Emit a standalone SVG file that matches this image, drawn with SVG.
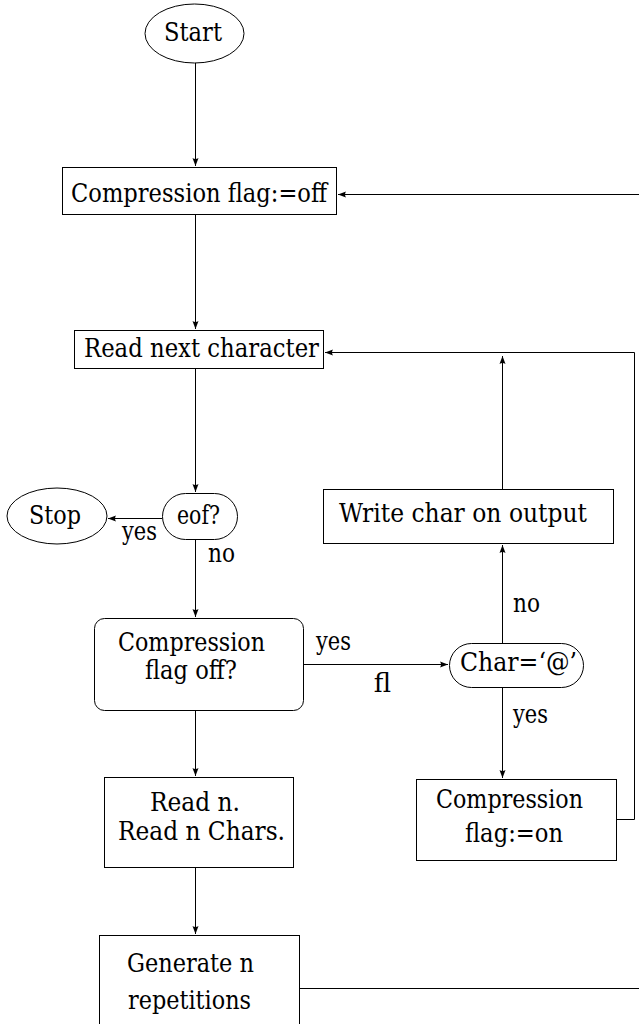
<svg xmlns="http://www.w3.org/2000/svg" width="639" height="1024" viewBox="0 0 639 1024">
<style>
.n{fill:#fff;stroke:#000;stroke-width:1}
text{font-family:'DejaVu Serif','Liberation Serif',serif;font-size:26px;fill:#000;text-anchor:middle}
.c{fill:none;stroke:#000;stroke-width:1}
</style>
<defs>
<marker id="a" markerUnits="userSpaceOnUse" markerWidth="10" markerHeight="8" refX="8" refY="4" orient="auto">
<path d="M0,1 L8,4 L0,7 Q2,4 0,1 Z" fill="#000"/>
</marker>
</defs>
<rect width="639" height="1024" fill="#fff"/>
<g id="connectors">
<path class="c" d="M195.5 63 V166" marker-end="url(#a)"/>
<path class="c" d="M195.5 215 V329" marker-end="url(#a)"/>
<path class="c" d="M195.5 369 V492" marker-end="url(#a)"/>
<path class="c" d="M162 518.5 H108" marker-end="url(#a)"/>
<path class="c" d="M195.5 540 V617" marker-end="url(#a)"/>
<path class="c" d="M303 664.5 H448" marker-end="url(#a)"/>
<path class="c" d="M195.5 711 V776" marker-end="url(#a)"/>
<path class="c" d="M195.5 868 V934" marker-end="url(#a)"/>
<path class="c" d="M502.5 643 V545" marker-end="url(#a)"/>
<path class="c" d="M502.5 489 V356" marker-end="url(#a)"/>
<path class="c" d="M502.5 688 V778" marker-end="url(#a)"/>
<path class="c" d="M617 819.5 H634.5 V352.5 H325" marker-end="url(#a)"/>
<path class="c" d="M640 194.5 H338" marker-end="url(#a)"/>
<path class="c" d="M299 988.5 H640"/>
</g>
<g id="start">
<ellipse class="n" cx="194.5" cy="33.5" rx="49.5" ry="29.5"/>
<text x="193" y="41" textLength="58" lengthAdjust="spacingAndGlyphs">Start</text>
</g>
<g id="flag-off">
<rect class="n" x="62.5" y="167.5" width="274" height="47"/>
<text x="199" y="202" textLength="256" lengthAdjust="spacingAndGlyphs">Compression flag:=off</text>
</g>
<g id="read-next">
<rect class="n" x="74.5" y="330.5" width="249" height="38"/>
<text x="201.5" y="357" textLength="235" lengthAdjust="spacingAndGlyphs">Read next character</text>
</g>
<g id="eof">
<rect class="n" x="162.5" y="493.5" width="75" height="46" rx="23" ry="23"/>
<text x="198.5" y="524" textLength="43" lengthAdjust="spacingAndGlyphs">eof?</text>
</g>
<g id="stop">
<ellipse class="n" cx="57" cy="516" rx="50" ry="28"/>
<text x="55" y="524" textLength="52" lengthAdjust="spacingAndGlyphs">Stop</text>
</g>
<text x="139.5" y="540" textLength="35" lengthAdjust="spacingAndGlyphs">yes</text>
<text x="221.5" y="562" textLength="27" lengthAdjust="spacingAndGlyphs">no</text>
<g id="flag-off-q">
<rect class="n" x="94.5" y="618.5" width="209" height="92" rx="10" ry="10"/>
<text x="191.5" y="651" textLength="147" lengthAdjust="spacingAndGlyphs">Compression</text>
<text x="191" y="679" textLength="92" lengthAdjust="spacingAndGlyphs">flag off?</text>
</g>
<text x="333.5" y="650" textLength="35" lengthAdjust="spacingAndGlyphs">yes</text>
<text x="382.5" y="692">ﬂ</text>
<g id="char-at">
<rect class="n" x="449.5" y="643.5" width="134" height="44" rx="22" ry="22"/>
<text x="518.5" y="671" textLength="117" lengthAdjust="spacingAndGlyphs">Char=‘@’</text>
</g>
<text x="526.5" y="612" textLength="27" lengthAdjust="spacingAndGlyphs">no</text>
<text x="530.5" y="723" textLength="35" lengthAdjust="spacingAndGlyphs">yes</text>
<g id="write-char">
<rect class="n" x="323.5" y="489.5" width="290" height="54"/>
<text x="463" y="522" textLength="248" lengthAdjust="spacingAndGlyphs">Write char on output</text>
</g>
<g id="read-n">
<rect class="n" x="104.5" y="777.5" width="189" height="90"/>
<text x="195" y="811" textLength="90" lengthAdjust="spacingAndGlyphs">Read n.</text>
<text x="201.5" y="840" textLength="167" lengthAdjust="spacingAndGlyphs">Read n Chars.</text>
</g>
<g id="flag-on">
<rect class="n" x="416.5" y="779.5" width="200" height="81"/>
<text x="509.5" y="808" textLength="147" lengthAdjust="spacingAndGlyphs">Compression</text>
<text x="514" y="842" textLength="98" lengthAdjust="spacingAndGlyphs">flag:=on</text>
</g>
<g id="generate">
<rect class="n" x="99.5" y="935.5" width="200" height="100"/>
<text x="190.5" y="972" textLength="127" lengthAdjust="spacingAndGlyphs">Generate n</text>
<text x="189.5" y="1009" textLength="123" lengthAdjust="spacingAndGlyphs">repetitions</text>
</g>
</svg>
